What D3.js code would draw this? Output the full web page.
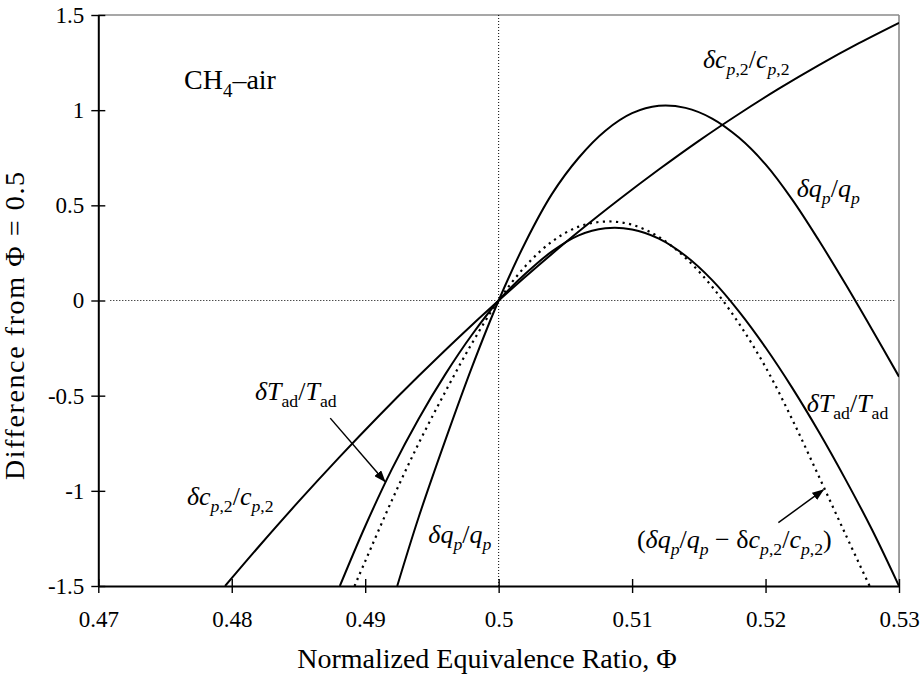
<!DOCTYPE html>
<html>
<head>
<meta charset="utf-8">
<script src="https://cdn.jsdelivr.net/npm/d3@7"></script>
<style>
  html, body { margin: 0; padding: 0; background: #fff; }
  svg { display: block; }
  text { font-family: "Liberation Serif", "Times New Roman", serif; }
</style>
</head>
<body>
<svg id="chart"></svg>
<script>
// Difference from Phi = 0.5 vs normalized equivalence ratio (CH4-air)

// Axis ticks
const xTicks = [0.47, 0.48, 0.49, 0.5, 0.51, 0.52, 0.53];
const xTickLabels = ["0.47", "0.48", "0.49", "0.5", "0.51", "0.52", "0.53"];
const yTicks = [-1.5, -1, -0.5, 0, 0.5, 1, 1.5];
const yTickLabels = ["-1.5", "-1", "-0.5", "0", "0.5", "1", "1.5"];

// dcp,2/cp,2
const cpPhi = [0.4795, 0.482, 0.485, 0.488, 0.491, 0.494, 0.497, 0.5, 0.503, 0.506, 0.509, 0.512, 0.515, 0.518, 0.521, 0.524, 0.527, 0.53];
const cpVal = [-1.5, -1.295, -1.057, -0.828, -0.608, -0.397, -0.194, 0, 0.185, 0.362, 0.529, 0.688, 0.839, 0.98, 1.113, 1.237, 1.352, 1.459];

// dqp/qp
const qpPhi = [0.4924, 0.494, 0.496, 0.498, 0.5, 0.502, 0.504, 0.506, 0.508, 0.51, 0.512, 0.514, 0.516, 0.518, 0.52, 0.522, 0.524, 0.526, 0.528, 0.53];
const qpVal = [-1.5, -1.14, -0.735, -0.35, 0, 0.305, 0.56, 0.75, 0.892, 0.984, 1.023, 1.012, 0.956, 0.856, 0.715, 0.53, 0.315, 0.085, -0.155, -0.4];

// dTad/Tad
const tadPhi = [0.4881, 0.49, 0.492, 0.494, 0.496, 0.498, 0.5, 0.502, 0.504, 0.506, 0.508, 0.51, 0.512, 0.514, 0.516, 0.518, 0.52, 0.522, 0.524, 0.526, 0.528, 0.53];
const tadVal = [-1.5, -1.186, -0.886, -0.622, -0.388, -0.18, 0, 0.14, 0.258, 0.342, 0.379, 0.373, 0.325, 0.235, 0.107, -0.057, -0.247, -0.459, -0.691, -0.941, -1.207, -1.5];

// (dqp/qp - dcp,2/cp,2), dotted
const diffPhi = [0.4892, 0.49, 0.492, 0.494, 0.496, 0.498, 0.5, 0.502, 0.504, 0.506, 0.508, 0.51, 0.512, 0.514, 0.516, 0.518, 0.52, 0.522, 0.524, 0.526, 0.5278];
const diffVal = [-1.5, -1.37, -1.05, -0.752, -0.48, -0.225, 0, 0.18, 0.31, 0.388, 0.415, 0.398, 0.334, 0.224, 0.072, -0.12, -0.35, -0.625, -0.925, -1.23, -1.5];

// Config
const width = 924;
const height = 678;
const margin = { top: 15, right: 25, bottom: 92, left: 98.3 };

const svg = d3.select("#chart")
  .attr("width", width)
  .attr("height", height);

const x = d3.scaleLinear()
  .domain([0.47, 0.53])
  .range([margin.left, width - margin.right]);

const y = d3.scaleLinear()
  .domain([-1.5, 1.5])
  .range([height - margin.bottom, margin.top]);

const defs = svg.append("defs");
defs.append("clipPath").attr("id", "plot-clip")
  .append("rect")
  .attr("x", x(0.47)).attr("y", y(1.5) - 2)
  .attr("width", x(0.53) - x(0.47))
  .attr("height", y(-1.5) - y(1.5) + 2);

defs.append("marker")
  .attr("id", "arrow")
  .attr("markerUnits", "userSpaceOnUse")
  .attr("markerWidth", 12).attr("markerHeight", 9)
  .attr("refX", 11).attr("refY", 4.5)
  .attr("orient", "auto")
  .append("path")
  .attr("d", "M0,0 L12,4.5 L0,9 Z")
  .attr("fill", "#000");

// Frame (top and right, gray)
svg.append("line")
  .attr("x1", x(0.47)).attr("x2", x(0.53))
  .attr("y1", y(1.5)).attr("y2", y(1.5))
  .attr("stroke", "#8a8a8a").attr("stroke-width", 1.6);
svg.append("line")
  .attr("x1", x(0.53)).attr("x2", x(0.53))
  .attr("y1", y(1.5)).attr("y2", y(-1.5))
  .attr("stroke", "#8a8a8a").attr("stroke-width", 1.6);

// Reference lines at Phi = 0.5 and zero
svg.append("line")
  .attr("x1", x(0.4709)).attr("x2", x(0.5297))
  .attr("y1", y(0)).attr("y2", y(0))
  .attr("stroke", "#000").attr("stroke-width", 1)
  .attr("stroke-dasharray", "1,2");
svg.append("line")
  .attr("x1", x(0.5)).attr("x2", x(0.5))
  .attr("y1", y(1.5)).attr("y2", y(-1.5))
  .attr("stroke", "#000").attr("stroke-width", 1)
  .attr("stroke-dasharray", "1,2");

// Series
const line = d3.line()
  .x(d => x(d[0]))
  .y(d => y(d[1]))
  .curve(d3.curveCatmullRom.alpha(0.5));

const series = [
  { phi: cpPhi, val: cpVal, dash: null },
  { phi: qpPhi, val: qpVal, dash: null },
  { phi: tadPhi, val: tadVal, dash: null },
  { phi: diffPhi, val: diffVal, dash: "2.2,4.4" }
];

const plot = svg.append("g").attr("clip-path", "url(#plot-clip)");
series.forEach(s => {
  plot.append("path")
    .datum(d3.zip(s.phi, s.val))
    .attr("fill", "none")
    .attr("stroke", "#000")
    .attr("stroke-width", s.dash ? 2.2 : 2)
    .attr("stroke-dasharray", s.dash)
    .attr("d", line);
});

// Axes
const yAxis = d3.axisLeft(y)
  .tickValues(yTicks)
  .tickFormat((d, i) => yTickLabels[i])
  .tickSizeOuter(0);

const xAxis = d3.axisBottom(x)
  .tickValues(xTicks)
  .tickFormat((d, i) => xTickLabels[i])
  .tickSizeOuter(0);

const gy = svg.append("g")
  .attr("transform", `translate(${x(0.47)},0)`)
  .call(yAxis)
  .attr("font-family", null);
gy.select(".domain").attr("stroke", "#000").attr("stroke-width", 2);
gy.selectAll(".tick line").attr("x1", 7).attr("x2", -7).attr("stroke-width", 1.4);
gy.selectAll(".tick text")
  .attr("x", -14)
  .attr("font-size", 23)
  .attr("fill", "#000");

const gx = svg.append("g")
  .attr("transform", `translate(0,${y(-1.5)})`)
  .call(xAxis)
  .attr("font-family", null);
gx.select(".domain").attr("stroke", "#000").attr("stroke-width", 2);
gx.selectAll(".tick line").attr("y1", -7).attr("y2", 7).attr("stroke-width", 1.4);
gx.selectAll(".tick text")
  .attr("y", 25)
  .attr("font-size", 23)
  .attr("fill", "#000");

// Axis titles
svg.append("text")
  .attr("x", 487)
  .attr("y", 668)
  .attr("text-anchor", "middle")
  .attr("font-size", 28)
  .text("Normalized Equivalence Ratio, Φ");

svg.append("text")
  .attr("transform", "translate(24,326) rotate(-90)")
  .attr("text-anchor", "middle")
  .attr("font-size", 28)
  .attr("textLength", 308)
  .attr("lengthAdjust", "spacing")
  .text("Difference from Φ = 0.5");

// Math-style labels: [text, style] where style has i = italic, s = subscript
function mathLabel(px, py, parts, size) {
  const t = svg.append("text")
    .attr("x", x(px))
    .attr("y", y(py))
    .attr("font-size", size)
    .attr("fill", "#000");
  let down = false;
  parts.forEach(([txt, st]) => {
    const sub = st.includes("s");
    const ts = t.append("tspan").text(txt);
    if (st.includes("i")) ts.attr("font-style", "italic");
    if (sub) ts.attr("font-size", size * 0.68);
    if (sub !== down) {
      ts.attr("dy", sub ? size * 0.27 : -size * 0.27);
      down = sub;
    }
  });
}

const cpParts = [["δc", "i"], ["p", "is"], [",2", "s"], ["/", ""], ["c", "i"], ["p", "is"], [",2", "s"]];
const qpParts = [["δq", "i"], ["p", "is"], ["/", ""], ["q", "i"], ["p", "is"]];
const tadParts = [["δT", "i"], ["ad", "s"], ["/", ""], ["T", "i"], ["ad", "s"]];
const diffParts = [["(", ""], ["δq", "i"], ["p", "is"], ["/", ""], ["q", "i"], ["p", "is"],
  [" − δ", ""], ["c", "i"], ["p", "is"], [",2", "s"], ["/", ""], ["c", "i"], ["p", "is"], [",2", "s"], [")", ""]];

mathLabel(0.47642, 1.111, [["CH", ""], ["4", "s"], ["–air", ""]], 28);
mathLabel(0.51531, 1.22, cpParts, 26);
mathLabel(0.52234, 0.545, qpParts, 26);
mathLabel(0.48174, -0.523, tadParts, 26);
mathLabel(0.47664, -1.075, cpParts, 26);
mathLabel(0.49473, -1.275, qpParts, 26);
mathLabel(0.52308, -0.584, tadParts, 26);
mathLabel(0.51036, -1.30, diffParts, 26);

// Arrows
const arrows = [
  { from: [0.48738, -0.618], to: [0.49148, -0.951] },
  { from: [0.52096, -1.167], to: [0.52433, -0.995] }
];
arrows.forEach(a => {
  svg.append("line")
    .attr("x1", x(a.from[0])).attr("y1", y(a.from[1]))
    .attr("x2", x(a.to[0])).attr("y2", y(a.to[1]))
    .attr("stroke", "#000").attr("stroke-width", 1.5)
    .attr("marker-end", "url(#arrow)");
});
</script>
</body>
</html>
